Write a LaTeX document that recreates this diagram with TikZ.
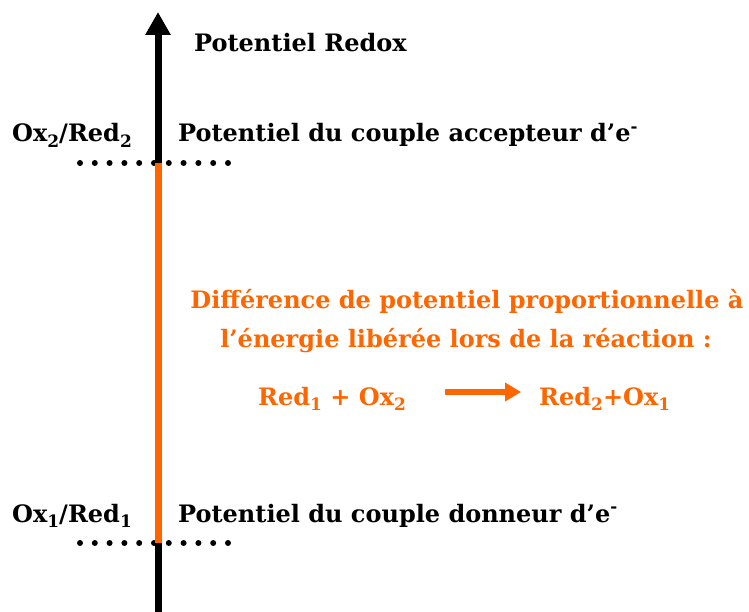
\documentclass[tikz,border=0pt]{standalone}
\usepackage{fontspec}
\setmainfont{DejaVu Serif}
\usetikzlibrary{arrows.meta}
\definecolor{redoxorange}{RGB}{255,102,0}
\newcommand{\lowsub}[1]{\raisebox{-0.45ex}{\fontsize{17}{20}\selectfont #1}}
\tikzset{
  lbl/.style={font=\bfseries\fontsize{24}{28}\selectfont, inner sep=0pt},
  olbl/.style={lbl, text=redoxorange},
  dotrow/.style={line width=6pt, line cap=round, dash pattern=on 0pt off 14.8pt},
  axisline/.style={line width=7pt},
}
\begin{document}
\begin{tikzpicture}[x=1pt,y=-1pt]
\useasboundingbox (0,0) rectangle (749,612);
% dotted levels
\coordinate (d2a) at (80,163); \coordinate (d2b) at (228.5,163);
\coordinate (d1a) at (80,543); \coordinate (d1b) at (228.5,543);
\draw[dotrow] (d2a) -- (d2b);
\draw[dotrow] (d1a) -- (d1b);
% axis
\coordinate (abot) at (158,612); \coordinate (atop) at (158,12);
\coordinate (o2) at (158,163); \coordinate (o1) at (158,543);
\draw[axisline, -{Triangle[width=24pt,length=23pt]}] (abot) -- (atop);
\draw[axisline, redoxorange] (o1) -- (o2);
% labels
\node[lbl, anchor=base west] (title) at (194,52) {Potentiel Redox};
\node[lbl, anchor=base west] (ox2) at (12,142) {Ox\lowsub{2}/Red\lowsub{2}};
\node[lbl, anchor=base west] (acc) at (178,142) {Potentiel du couple accepteur d’e\textsuperscript{-}};
\node[lbl, anchor=base west] (ox1) at (12,522) {Ox\lowsub{1}/Red\lowsub{1}};
\node[lbl, anchor=base west] (don) at (178,522) {Potentiel du couple donneur d’e\textsuperscript{-}};
% orange text
\node[olbl, anchor=base] (l1) at (467,308) {Différence de potentiel proportionnelle à};
\node[olbl, anchor=base] (l2) at (466,347) {l’énergie libérée lors de la réaction :};
\node[olbl, anchor=base west] (r1) at (258,405) {Red\lowsub{1} + Ox\lowsub{2}};
\node[olbl, anchor=base west] (r2) at (539,405) {Red\lowsub{2}+Ox\lowsub{1}};
\coordinate (ra) at (445,392); \coordinate (rb) at (521,392);
\draw[redoxorange, line width=6pt, -{Triangle[width=18pt,length=16pt]}] (ra) -- (rb);
\end{tikzpicture}
\end{document}
